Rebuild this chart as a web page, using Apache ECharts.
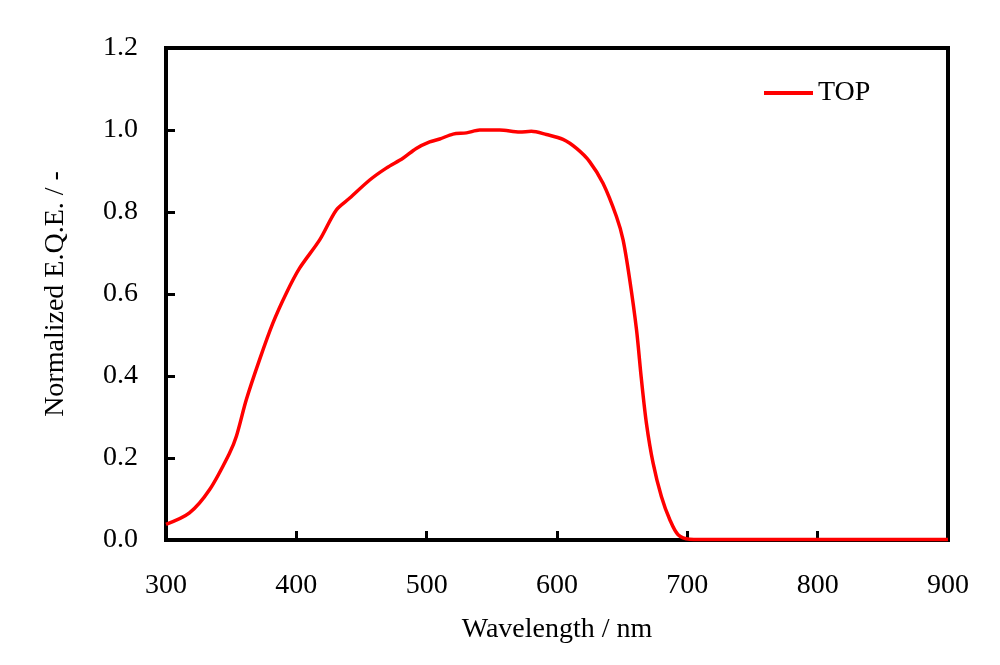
<!DOCTYPE html>
<html>
<head>
<meta charset="utf-8">
<script src="https://cdn.jsdelivr.net/npm/echarts@6/dist/echarts.min.js"></script>
<style>html,body{margin:0;padding:0;background:#fff}#c{width:1000px;height:665px}</style>
</head>
<body>
<div id="c"></div>
<script>
const wavelength = [300,318,333.5,348.8,354,361.6,371.8,382,392.3,402.5,417.9,430.7,441,456.3,469,481.8,492,502.3,510,520.2,530.5,540.7,556,571.4,580.3,591.9,604.6,615,625,635.3,645.6,650.7,655.8,661,664.8,668.6,673.7,680.1,686.5,692.9,701.8,720,800,900];
const eqe = [0.038,0.066,0.123,0.212,0.253,0.342,0.44,0.529,0.602,0.663,0.732,0.805,0.834,0.878,0.907,0.931,0.955,0.971,0.978,0.99,0.993,1.0,1.0,0.995,0.997,0.989,0.977,0.955,0.923,0.870,0.789,0.732,0.635,0.513,0.391,0.285,0.188,0.106,0.050,0.013,0.002,0.001,0.001,0.001];
const xTicks = [300,400,500,600,700,800,900];
const yTicks = [0,0.2,0.4,0.6,0.8,1.0,1.2];
const seriesName = 'TOP';

const chart = echarts.init(document.getElementById('c'));
const font = 'Liberation Serif';
const fs = 28;
chart.setOption({
  animation: false,
  backgroundColor: '#fff',
  grid: {left: 166, top: 48, right: 52, bottom: 125, show: true, borderColor: '#000', borderWidth: 4, backgroundColor: 'transparent'},
  legend: {
    left: 759, top: 74, itemWidth: 49, itemHeight: 4, itemGap: 4,
    icon: 'rect',
    textStyle: {fontFamily: font, fontSize: fs, color: '#000', padding: [0,0,0,0]},
    data: [{name: seriesName, icon: 'rect'}]
  },
  xAxis: {
    type: 'value', min: xTicks[0], max: xTicks[xTicks.length-1], interval: 100,
    name: 'Wavelength / nm', nameLocation: 'middle', nameGap: 76,
    nameTextStyle: {fontFamily: font, fontSize: fs, color: '#000', verticalAlign: 'top'},
    axisLine: {show: true, lineStyle: {color: '#000', width: 4}},
    axisTick: {show: true, inside: true, length: 9, lineStyle: {color: '#000', width: 3}},
    axisLabel: {fontFamily: font, fontSize: fs, color: '#000', margin: 32},
    splitLine: {show: false}
  },
  yAxis: {
    type: 'value', min: yTicks[0], max: yTicks[yTicks.length-1], interval: 0.2,
    name: 'Normalized E.Q.E. / -', nameLocation: 'middle', nameGap: 96, nameRotate: 90,
    nameTextStyle: {fontFamily: font, fontSize: fs, color: '#000'},
    axisLine: {show: true, lineStyle: {color: '#000', width: 4}},
    axisTick: {show: true, inside: true, length: 9, lineStyle: {color: '#000', width: 3}},
    axisLabel: {fontFamily: font, fontSize: fs, color: '#000', margin: 28, formatter: v => v.toFixed(1)},
    splitLine: {show: false}
  },
  series: [{
    name: seriesName, type: 'line', smooth: 0.3, showSymbol: false,
    data: wavelength.map((w, i) => [w, eqe[i]]),
    lineStyle: {color: '#ff0000', width: 3.5}, itemStyle: {color: '#ff0000'}
  }]
});
</script>
</body>
</html>
